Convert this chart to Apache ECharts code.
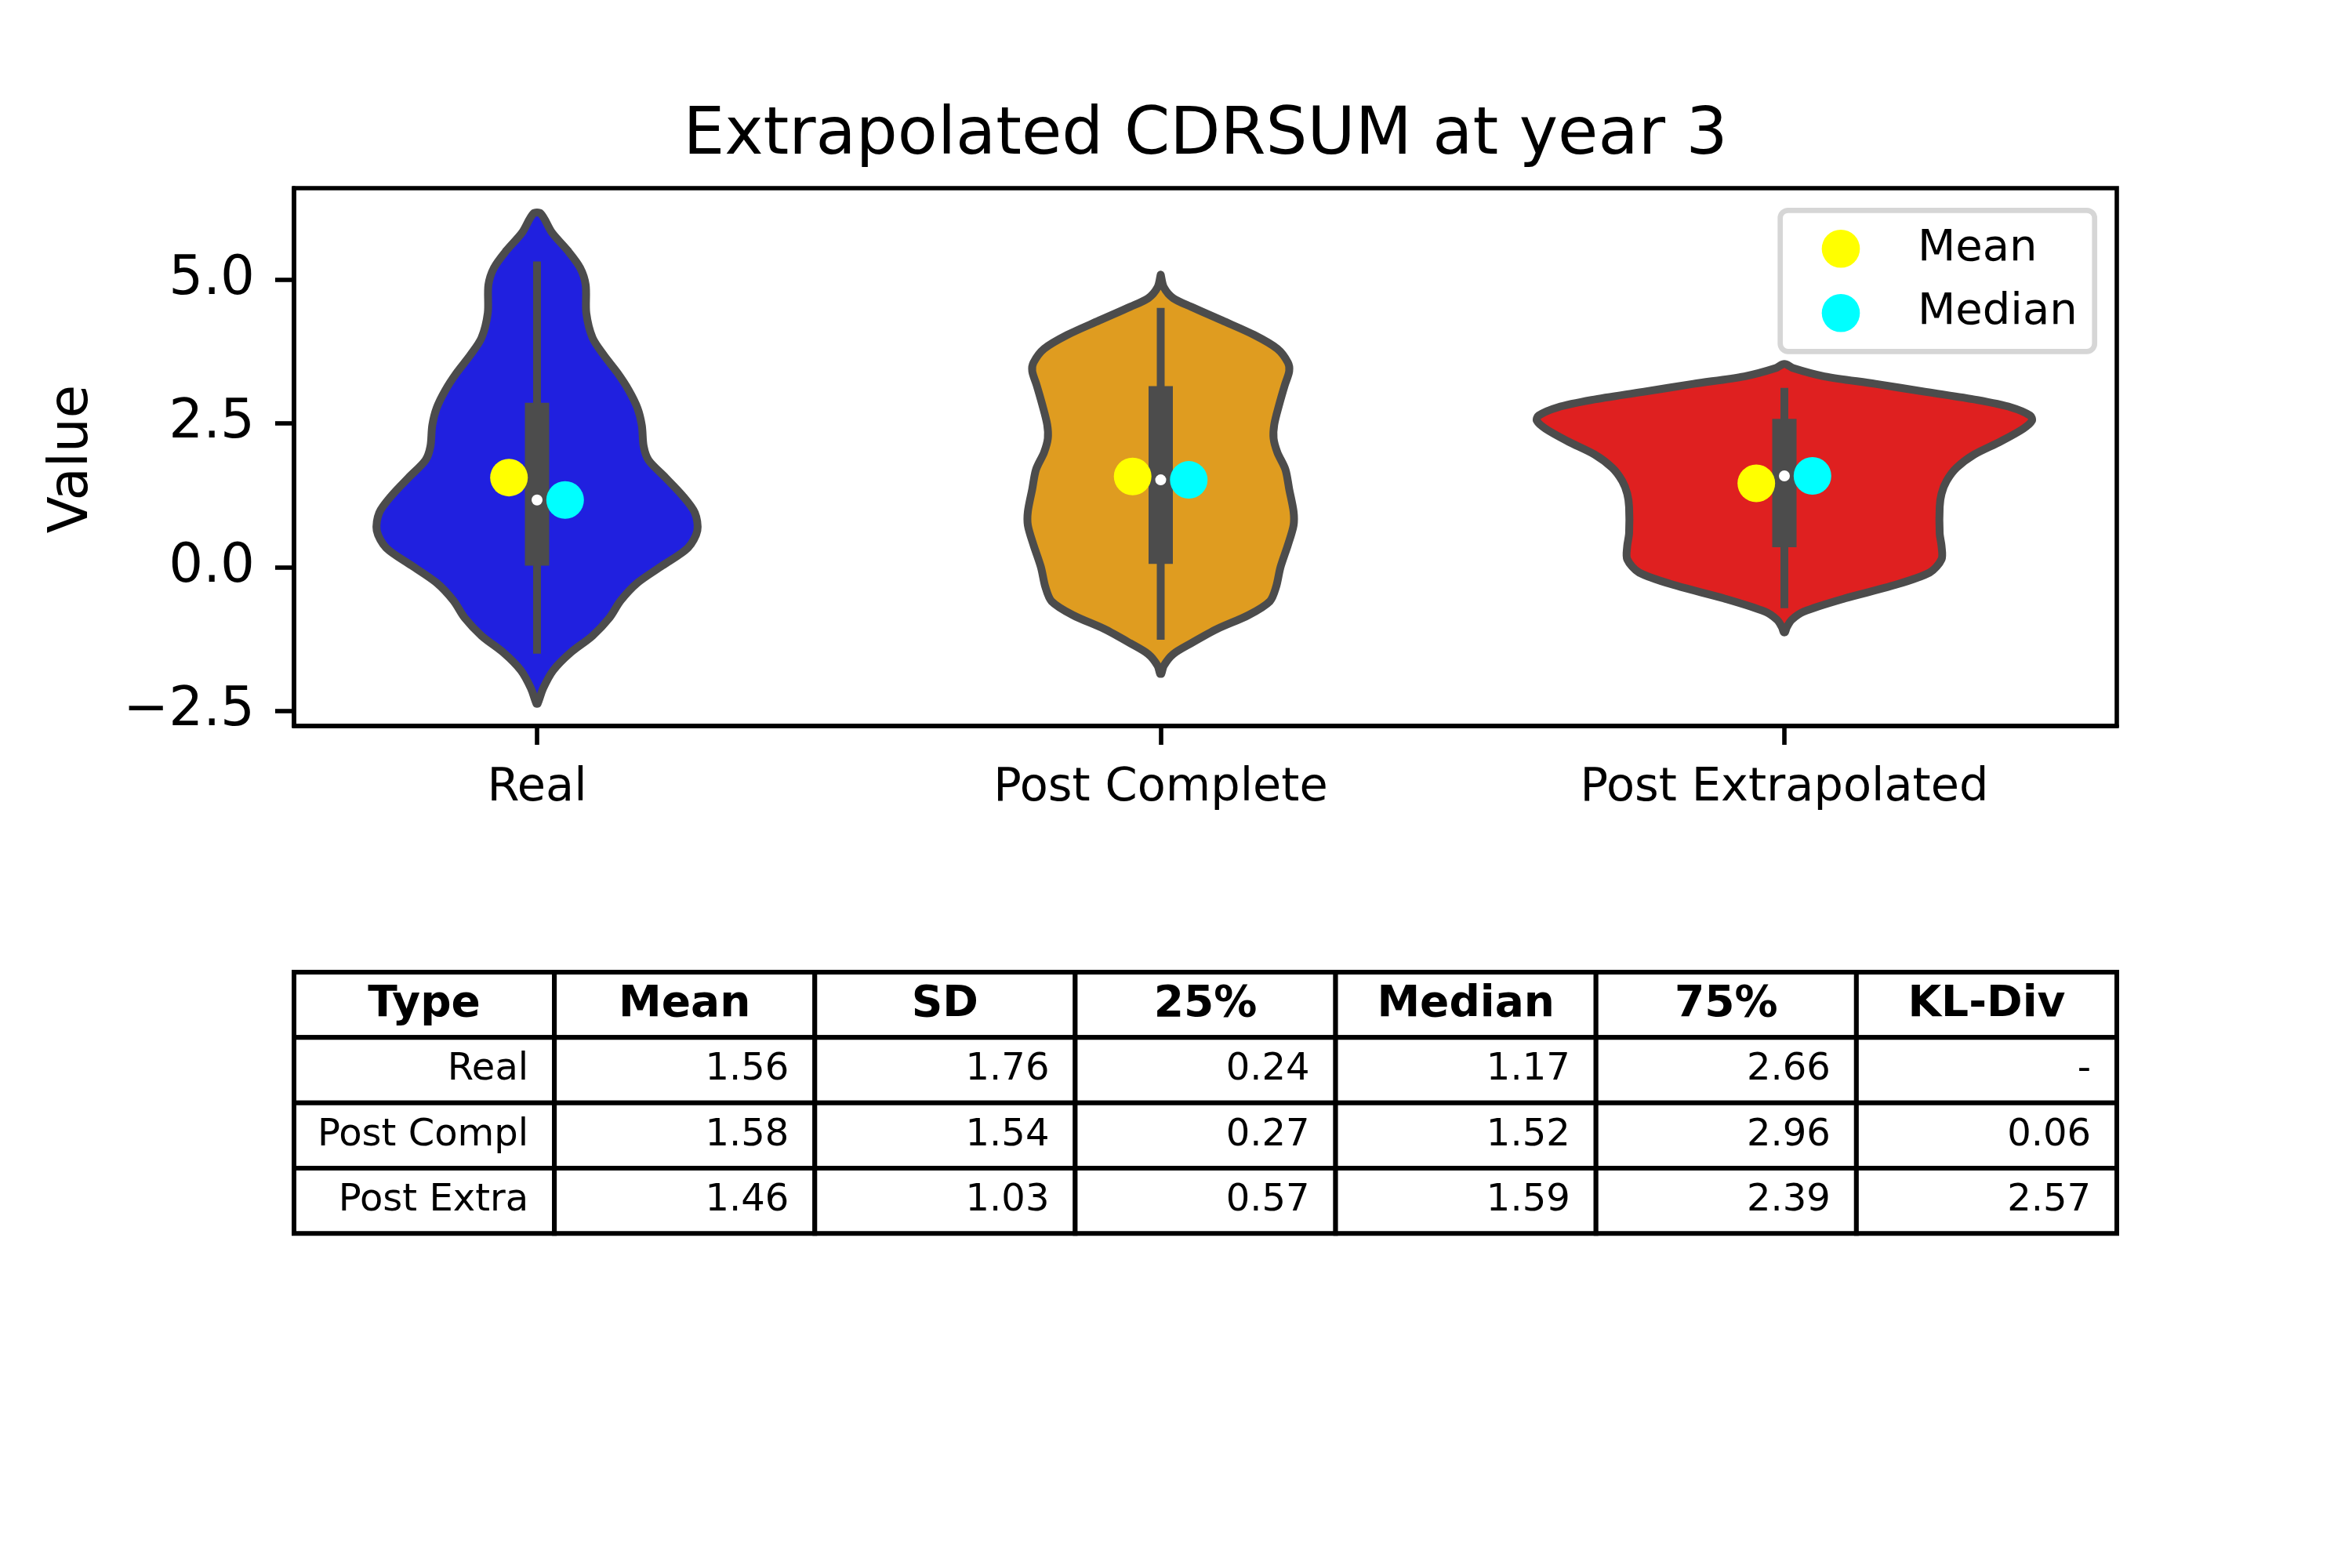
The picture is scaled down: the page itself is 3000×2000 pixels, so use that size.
<!DOCTYPE html>
<html>
<head>
<meta charset="utf-8">
<title>Extrapolated CDRSUM at year 3</title>
<script src="https://cdn.jsdelivr.net/npm/echarts@6/dist/echarts.min.js"></script>
<style>
  html, body { margin: 0; padding: 0; background: #fff; }
  #chart { width: 3000px; height: 2000px; }
</style>
</head>
<body>
<div id="chart"></div>
<script>
// --- data ---
const categories = ["Real", "Post Complete", "Post Extrapolated"];
const yTicks = [-2.5, 0, 2.5, 5];

// summary table
const tableHeaders = ["Type", "Mean", "SD", "25%", "Median", "75%", "KL-Div"];
const tableTypes = ["Real", "Post Compl", "Post Extra"];
const means = [1.56, 1.58, 1.46];
const sds = [1.76, 1.54, 1.03];
const q25 = [0.24, 0.27, 0.57];
const medians = [1.17, 1.52, 1.59];
const q75 = [2.66, 2.96, 2.39];
const klDiv = ["-", "0.06", "2.57"];

// inner box of each violin
const whiskerLow = [-1.50, -1.26, -0.71];
const boxLow = [0.03, 0.06, 0.35];
const boxHigh = [2.86, 3.15, 2.58];
const whiskerHigh = [5.32, 4.51, 3.12];

// violin outlines: value levels (top to bottom) and half widths in category units
const realLevels = [6.15, 5.82, 5.51, 5.21, 4.91, 4.42, 3.99, 3.69, 3.38, 3.08, 2.77, 2.47, 2.10, 1.86,
  1.56, 1.25, 0.95, 0.64, 0.34, 0.03, -0.27, -0.58, -0.88, -1.19, -1.49, -1.79, -2.10, -2.37];
const realHalfWidths = [0.006, 0.024, 0.049, 0.069, 0.078, 0.079, 0.089, 0.107, 0.129, 0.147, 0.161, 0.168, 0.171, 0.179,
  0.206, 0.233, 0.253, 0.257, 0.242, 0.201, 0.161, 0.134, 0.116, 0.089, 0.053, 0.026, 0.010, 0.001];

const complLevels = [5.09, 4.87, 4.68, 4.53, 4.29, 4.04, 3.80, 3.56, 3.41, 3.17, 2.83, 2.48, 2.24, 2.00,
  1.70, 1.36, 0.97, 0.73, 0.39, 0.00, -0.34, -0.59, -0.83, -1.07, -1.32, -1.51, -1.71, -1.85];
const complHalfWidths = [0.000, 0.005, 0.020, 0.049, 0.099, 0.150, 0.187, 0.204, 0.206, 0.199, 0.190, 0.182, 0.181, 0.187,
  0.200, 0.206, 0.213, 0.213, 0.204, 0.192, 0.185, 0.175, 0.141, 0.091, 0.049, 0.020, 0.005, 0.001];

const extraLevels = [3.53, 3.46, 3.32, 3.19, 3.05, 2.91, 2.78, 2.64, 2.55, 2.41, 2.19, 1.96, 1.73,
  1.50, 1.28, 1.05, 0.59, 0.37, 0.14, -0.09, -0.32, -0.54, -0.77, -0.91, -1.04, -1.13];
const extraHalfWidths = [0.003, 0.015, 0.064, 0.146, 0.227, 0.309, 0.364, 0.394, 0.397, 0.383, 0.347, 0.304, 0.276,
  0.260, 0.252, 0.249, 0.249, 0.252, 0.252, 0.233, 0.173, 0.097, 0.031, 0.012, 0.004, 0.001];

const violinLevels = [realLevels, complLevels, extraLevels];
const violinHalfWidths = [realHalfWidths, complHalfWidths, extraHalfWidths];
const violinColors = ["#2020df", "#df9c20", "#df2020"];

// --- chart ---
const FONT = "DejaVu Sans";
const GRAY = "#4c4c4c";
const DOT_SHIFT = 0.045;

const chart = echarts.init(document.getElementById("chart"), null, { renderer: "canvas" });

const renderViolin = (params, api) => {
  const i = params.dataIndex;
  const levels = violinLevels[i];
  const widths = violinHalfWidths[i];
  const pts = [];
  for (let k = 0; k < levels.length; k++) {
    pts.push(api.coord([i + widths[k], levels[k]]));
  }
  for (let k = levels.length - 1; k >= 0; k--) {
    pts.push(api.coord([i - widths[k], levels[k]]));
  }
  const c = api.coord([i, medians[i]]);
  const wTop = api.coord([i, whiskerHigh[i]]);
  const wBot = api.coord([i, whiskerLow[i]]);
  const bTop = api.coord([i, boxHigh[i]]);
  const bBot = api.coord([i, boxLow[i]]);
  return {
    type: "group",
    children: [
      {
        type: "polygon",
        shape: { points: pts, smooth: 0.3 },
        style: { fill: violinColors[i], stroke: GRAY, lineWidth: 10, lineJoin: "round" },
      },
      {
        type: "rect",
        shape: { x: c[0] - 5, y: wTop[1], width: 10, height: wBot[1] - wTop[1] },
        style: { fill: GRAY },
      },
      {
        type: "rect",
        shape: { x: c[0] - 15.5, y: bTop[1], width: 31, height: bBot[1] - bTop[1] },
        style: { fill: GRAY },
      },
      {
        type: "circle",
        shape: { cx: c[0], cy: c[1], r: 7 },
        style: { fill: "#ffffff" },
      },
    ],
  };
};

// table graphics
const fmt = (v) => v.toFixed(2);
const tableRows = tableTypes.map((t, i) => [t, fmt(means[i]), fmt(sds[i]), fmt(q25[i]), fmt(medians[i]), fmt(q75[i]), klDiv[i]]);
const TX = 375, TY = 1240, CW = 2325 / 7, RH = 83.33;
const tableGraphics = [];
[tableHeaders].concat(tableRows).forEach((row, r) => {
  row.forEach((cell, col) => {
    const x = TX + col * CW;
    const y = TY + r * RH;
    tableGraphics.push({
      type: "rect",
      shape: { x: x, y: y, width: CW, height: RH },
      style: { fill: "#fff", stroke: "#000", lineWidth: 6 },
      z: 1,
    });
    tableGraphics.push({
      type: "text",
      z: 2,
      style: {
        text: cell,
        x: r === 0 ? x + CW / 2 : x + CW - 33,
        y: y + RH / 2,
        align: r === 0 ? "center" : "right",
        verticalAlign: "middle",
        fontFamily: FONT,
        fontSize: r === 0 ? 55 : 48,
        fontWeight: r === 0 ? "bold" : "normal",
        fill: "#000",
      },
    });
  });
});

const legendGraphics = [
  {
    type: "rect",
    shape: { x: 2270.7, y: 268.3, width: 401, height: 180, r: 10 },
    style: { fill: "rgba(255,255,255,0.8)", stroke: "#d6d6d6", lineWidth: 6.7 },
    z: 10,
  },
  { type: "circle", shape: { cx: 2348, cy: 317.3, r: 24.3 }, style: { fill: "#ffff00" }, z: 11 },
  { type: "circle", shape: { cx: 2348, cy: 399.3, r: 24.3 }, style: { fill: "#00ffff" }, z: 11 },
  {
    type: "text", z: 11,
    style: { text: "Mean", x: 2446, y: 317.5, align: "left", verticalAlign: "middle", fontFamily: FONT, fontSize: 56, fill: "#000" },
  },
  {
    type: "text", z: 11,
    style: { text: "Median", x: 2446, y: 398, align: "left", verticalAlign: "middle", fontFamily: FONT, fontSize: 56, fill: "#000" },
  },
];

const option = {
  backgroundColor: "#ffffff",
  animation: false,
  grid: {
    left: 375, top: 240, width: 2325, height: 686,
    show: true, borderColor: "#000", borderWidth: 5.6, backgroundColor: "transparent",
  },
  xAxis: {
    type: "value",
    min: -0.3897,
    max: 2.533,
    axisLine: { show: true, onZero: false, lineStyle: { color: "#000", width: 5.6 } },
    axisTick: { show: true, length: 24, customValues: [0, 1, 2], lineStyle: { color: "#000", width: 5.6 } },
    axisLabel: {
      customValues: [0, 1, 2],
      formatter: (v) => categories[Math.round(v)],
      fontFamily: FONT, fontSize: 59, lineHeight: 59, color: "#000", margin: 50,
    },
    splitLine: { show: false },
  },
  yAxis: {
    type: "value",
    min: -2.759,
    max: 6.593,
    axisLine: { show: true, onZero: false, lineStyle: { color: "#000", width: 5.6 } },
    axisTick: { show: true, length: 24, customValues: yTicks, lineStyle: { color: "#000", width: 5.6 } },
    axisLabel: {
      customValues: yTicks,
      formatter: (v) => (v < 0 ? "\u2212" : "") + Math.abs(v).toFixed(1),
      fontFamily: FONT, fontSize: 69, color: "#000", margin: 50,
    },
    splitLine: { show: false },
  },
  series: [
    {
      type: "custom",
      name: "violins",
      renderItem: renderViolin,
      data: categories.map((c, i) => [i]),
      encode: { x: 0 },
      clip: false,
      z: 2,
    },
    {
      type: "scatter",
      name: "Mean",
      data: means.map((m, i) => [i - DOT_SHIFT, m]),
      symbol: "circle",
      symbolSize: 48,
      itemStyle: { color: "#ffff00", opacity: 1 },
      z: 5,
    },
    {
      type: "scatter",
      name: "Median",
      data: medians.map((m, i) => [i + DOT_SHIFT, m]),
      symbol: "circle",
      symbolSize: 48,
      itemStyle: { color: "#00ffff", opacity: 1 },
      z: 5,
    },
  ],
  graphic: [
    {
      type: "text",
      style: {
        text: "Extrapolated CDRSUM at year 3",
        x: 1537.5, y: 174.5, align: "center", verticalAlign: "middle",
        fontFamily: FONT, fontSize: 83.5, fill: "#000",
      },
    },
    {
      type: "text",
      x: 92.7, y: 585.6, rotation: Math.PI / 2,
      style: {
        text: "Value", x: 0, y: 0, align: "center", verticalAlign: "middle",
        fontFamily: FONT, fontSize: 69, fill: "#000",
      },
    },
  ].concat(legendGraphics, tableGraphics),
};

chart.setOption(option);

window.addEventListener("resize", () => chart.resize());
</script>
</body>
</html>
